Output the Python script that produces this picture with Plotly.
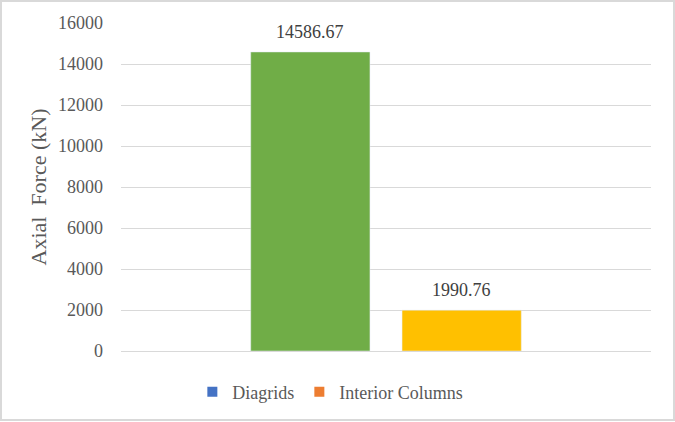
import plotly.graph_objects as go

# Data
series_names = ["Diagrids", "Interior Columns"]
axial_force = [14586.67, 1990.76]
bar_colors = ["#70AD47", "#FFC000"]
legend_colors = ["#4472C4", "#ED7D31"]
y_ticks = [0, 2000, 4000, 6000, 8000, 10000, 12000, 14000, 16000]

W, H = 675, 422
L, R, T, B = 121, 24, 23, 71
pw, ph = W - L - R, H - T - B
bargap, bargroupgap = 0.429, 0.212
slot_px = pw * (1 - bargap) / len(series_names)

fig = go.Figure()

for i, (name, val, col) in enumerate(zip(series_names, axial_force, bar_colors)):
    fig.add_trace(go.Bar(
        x=[""], y=[val], name=name, marker_color=col, showlegend=False,
    ))
    # data label a little above the bar top, like Excel
    fig.add_annotation(
        x=0, y=val, xref="x", yref="y", text=f"{val:.2f}", showarrow=False,
        xshift=(i - (len(series_names) - 1) / 2) * slot_px,
        yanchor="bottom", yshift=8,
        font=dict(family="Liberation Serif", size=18, color="#404040"),
    )

# legend entries use the default series colours, like the original
for name, col in zip(series_names, legend_colors):
    fig.add_trace(go.Scatter(
        x=[None], y=[None], mode="markers", name=name,
        marker=dict(symbol="square", size=10, color=col),
    ))

# light grey chart-area border
fig.add_shape(
    type="rect", xref="paper", yref="paper",
    x0=(1 - L) / pw, x1=(W - 1 - L) / pw,
    y0=(H - B - (H - 2)) / ph, y1=1 + (T - 1) / ph,
    line=dict(color="#D9D9D9", width=2), layer="below",
)

fig.update_layout(
    width=W, height=H,
    margin=dict(l=L, r=R, t=T, b=B),
    plot_bgcolor="white", paper_bgcolor="white",
    barmode="group", bargap=bargap, bargroupgap=bargroupgap,
    font=dict(family="Liberation Serif", color="#595959"),
    showlegend=True,
    legend=dict(
        orientation="h", x=0.395, xanchor="center", y=-0.125, yanchor="middle",
        font=dict(size=18, color="#595959"), itemwidth=30,
    ),
    xaxis=dict(showticklabels=False, showline=True, linecolor="#D9D9D9",
               showgrid=False, fixedrange=True),
    yaxis=dict(
        range=[0, 16000], tickvals=y_ticks, ticktext=[str(v) for v in y_ticks],
        showgrid=True, gridcolor="#D9D9D9",
        gridwidth=1, zeroline=False, showline=False,
        tickfont=dict(size=18, color="#595959"), ticklabelstandoff=17,
        title=dict(text="Axial  Force (kN)", font=dict(size=22, color="#595959"),
                   standoff=5),
    ),
)

fig.write_html("out.html", config={"displayModeBar": False},
               post_script="document.body.style.margin='0';")
